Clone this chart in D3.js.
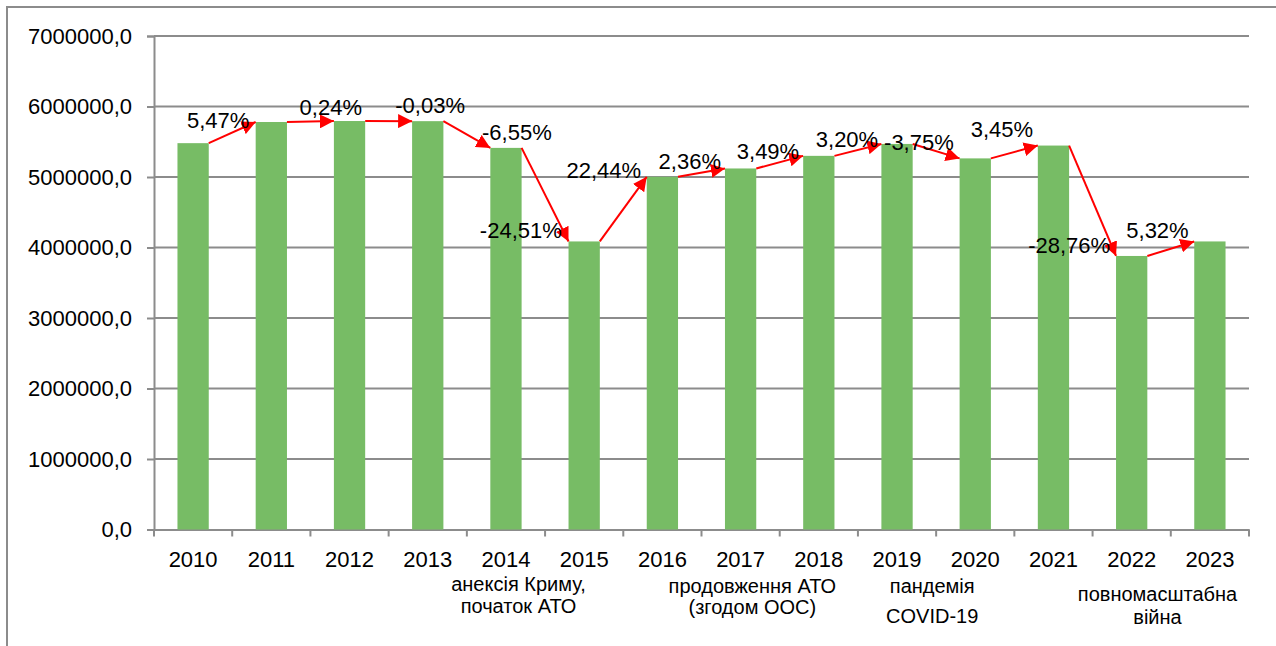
<!DOCTYPE html>
<html>
<head>
<meta charset="utf-8">
<script src="https://cdn.jsdelivr.net/npm/d3@7"></script>
<style>
  body { margin: 0; background: #fff; }
  text { font-family: "Liberation Sans", Arial, sans-serif; fill: #000; }
</style>
</head>
<body>
<div id="chart"></div>
<script>
const width = 1276;
const height = 646;

// data
const years = ["2010", "2011", "2012", "2013", "2014", "2015", "2016",
               "2017", "2018", "2019", "2020", "2021", "2022", "2023"];
const values = [5480000, 5780000, 5794000, 5792000, 5413000, 4086000, 5003000,
                5121000, 5300000, 5469000, 5264000, 5446000, 3880000, 4086000];
const changes = ["5,47%", "0,24%", "-0,03%", "-6,55%", "-24,51%", "22,44%", "2,36%",
                 "3,49%", "3,20%", "-3,75%", "3,45%", "-28,76%", "5,32%"];
const yTicks = [0, 1000000, 2000000, 3000000, 4000000, 5000000, 6000000, 7000000];
const notes = [
  ["анексія Криму,", "початок АТО"],
  ["продовження АТО", "(згодом ООС)"],
  ["пандемія", "COVID-19"],
  ["повномасштабна", "війна"]
];

// where the change labels sit (category units, value units)
const labelAt = [[0.32, 5810000], [1.76, 5993000], [3.03, 6020000], [4.14, 5640000],
                 [4.19, 4248000], [5.25, 5100000], [6.35, 5225000], [7.35, 5370000],
                 [8.36, 5539000], [9.28, 5490000], [10.34, 5672000], [11.2, 4035000],
                 [12.33, 4248000]];
// note placement: category units and line baselines in px
const noteAt = [[4.16, [591, 613]], [7.15, [593, 614]], [9.45, [593, 623]], [12.33, [601, 624]]];

const plot = {left: 154, right: 1249, top: 36, bottom: 529.5};

const svg = d3.select("#chart")
  .append("svg")
  .attr("width", width)
  .attr("height", height);

// outer frame
svg.append("rect")
  .attr("x", 7).attr("y", 7)
  .attr("width", 1300).attr("height", 700)
  .attr("fill", "none")
  .attr("stroke", "#8c8c8c")
  .attr("stroke-width", 2);

const x = d3.scaleBand()
  .domain(years)
  .range([plot.left, plot.right])
  .padding(0);

const xIdx = d3.scaleLinear()
  .domain([-0.5, years.length - 0.5])
  .range([plot.left, plot.right]);

const y = d3.scaleLinear()
  .domain([0, 7000000])
  .range([plot.bottom, plot.top]);

// grid
svg.append("g")
  .selectAll("line")
  .data(yTicks.slice(1))
  .enter()
  .append("line")
  .attr("x1", plot.left).attr("x2", plot.right)
  .attr("y1", d => y(d)).attr("y2", d => y(d))
  .attr("stroke", "#8c8c8c")
  .attr("stroke-width", 2);

// y axis
const yAxis = svg.append("g")
  .attr("transform", `translate(${plot.left},0)`)
  .call(d3.axisLeft(y)
    .tickValues(yTicks)
    .tickSize(7)
    .tickPadding(15)
    .tickFormat(d => d3.format(".1f")(d).replace(".", ",")));
yAxis.selectAll("text").style("font-size", "22px");
yAxis.selectAll("line").attr("stroke", "#8c8c8c").attr("stroke-width", 2);
yAxis.select(".domain").attr("stroke", "#8c8c8c").attr("stroke-width", 2);

// x axis: ticks between categories
const xAxis = svg.append("g")
  .attr("transform", `translate(0,${plot.bottom})`)
  .call(d3.axisBottom(x).tickSize(0).tickPadding(22));
xAxis.select(".domain").attr("stroke", "#8c8c8c").attr("stroke-width", 2);
xAxis.selectAll("text").style("font-size", "22px");

xAxis.append("g")
  .selectAll("line")
  .data(years.concat(["end"]))
  .enter()
  .append("line")
  .attr("x1", (d, i) => i < years.length ? x(d) : plot.right)
  .attr("x2", (d, i) => i < years.length ? x(d) : plot.right)
  .attr("y1", 0).attr("y2", 7)
  .attr("stroke", "#8c8c8c")
  .attr("stroke-width", 2);

// bars
const barW = x.bandwidth() * 0.4;
svg.append("g")
  .selectAll("rect")
  .data(values)
  .enter()
  .append("rect")
  .attr("x", (d, i) => x(years[i]) + (x.bandwidth() - barW) / 2)
  .attr("y", d => y(d))
  .attr("width", barW)
  .attr("height", d => y(0) - y(d))
  .attr("fill", "#77bc65");

// arrows between bar tops
svg.append("defs")
  .append("marker")
  .attr("id", "head")
  .attr("viewBox", "0 0 14 14")
  .attr("refX", 14).attr("refY", 7)
  .attr("markerWidth", 14).attr("markerHeight", 14)
  .attr("markerUnits", "userSpaceOnUse")
  .attr("orient", "auto")
  .append("path")
  .attr("d", "M0,0 L14,7 L0,14 Z")
  .attr("fill", "#ff0000");

svg.append("g")
  .selectAll("line")
  .data(changes)
  .enter()
  .append("line")
  .attr("x1", (d, i) => x(years[i]) + (x.bandwidth() + barW) / 2)
  .attr("y1", (d, i) => y(values[i]))
  .attr("x2", (d, i) => x(years[i + 1]) + (x.bandwidth() - barW) / 2)
  .attr("y2", (d, i) => y(values[i + 1]))
  .attr("stroke", "#ff0000")
  .attr("stroke-width", 2)
  .attr("marker-end", "url(#head)");

// change labels
svg.append("g")
  .selectAll("text")
  .data(changes)
  .enter()
  .append("text")
  .attr("x", (d, i) => xIdx(labelAt[i][0]))
  .attr("y", (d, i) => y(labelAt[i][1]))
  .attr("dy", "0.35em")
  .attr("text-anchor", "middle")
  .style("font-size", "22px")
  .text(d => d);

// event notes under the years
notes.forEach((lines, k) => {
  svg.append("text")
    .attr("text-anchor", "middle")
    .style("font-size", "20px")
    .selectAll("tspan")
    .data(lines)
    .enter()
    .append("tspan")
    .attr("x", xIdx(noteAt[k][0]))
    .attr("y", (d, j) => noteAt[k][1][j])
    .text(d => d);
});
</script>
</body>
</html>
